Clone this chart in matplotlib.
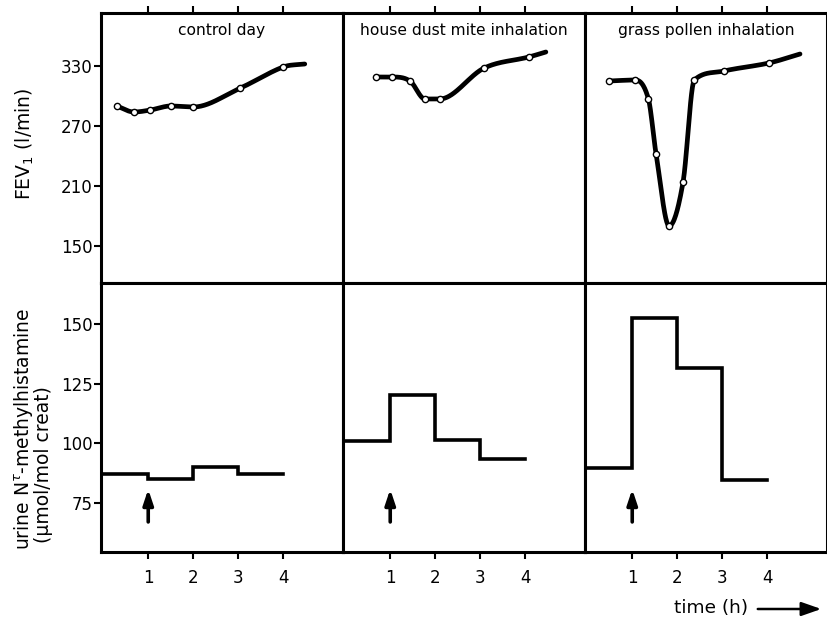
import numpy as np
import matplotlib
matplotlib.use("Agg")
import matplotlib.pyplot as plt

titles = ["control day", "house dust mite inhalation", "grass pollen inhalation"]

# FEV1 measurements (time in h, l/min); last pair is where the drawn curve ends
fev_t = [
    [0.3, 0.68, 1.05, 1.5, 2.0, 3.05, 4.0],
    [0.68, 1.04, 1.44, 1.77, 2.1, 3.09, 4.08],
    [0.49, 1.07, 1.36, 1.53, 1.82, 2.13, 2.38, 3.04, 4.04],
]
fev_vals = [
    [290, 284, 286, 290, 289, 308, 329],
    [319, 319, 315, 297, 297, 328, 339],
    [315, 316, 297, 242, 170, 214, 316, 325, 333],
]
fev_end_t = [4.48, 4.46, 4.73]
fev_end = [332, 344, 342]

# urine N-methylhistamine per hour interval (0-1, 1-2, 2-3, 3-4)
hist_edges = [0, 1, 2, 3, 4]
hist_vals = [
    [87, 85, 90, 87],
    [101, 120, 101.5, 93.5],
    [89.5, 152.5, 131.5, 84.5],
]

fev_ticks = [150, 210, 270, 330]
hist_ticks = [75, 100, 125, 150]
time_ticks = [1, 2, 3, 4]


def smooth(x, y, xn):
    # cubic hermite through the points (tangents limited so it doesn't overshoot)
    x = np.asarray(x, float)
    y = np.asarray(y, float)
    h = np.diff(x)
    d = np.diff(y) / h
    m = np.empty(len(x))
    m[0], m[-1] = d[0], d[-1]
    m[1:-1] = (y[2:] - y[:-2]) / (x[2:] - x[:-2])
    for k in range(1, len(x) - 1):
        if d[k - 1] * d[k] <= 0:
            m[k] = 0.0
        else:
            lim = 3 * min(abs(d[k - 1]), abs(d[k]))
            m[k] = np.sign(m[k]) * min(abs(m[k]), lim)
    i = np.clip(np.searchsorted(x, xn) - 1, 0, len(x) - 2)
    s = (xn - x[i]) / h[i]
    h00 = 2 * s**3 - 3 * s**2 + 1
    h10 = s**3 - 2 * s**2 + s
    h01 = -2 * s**3 + 3 * s**2
    h11 = s**3 - s**2
    return h00 * y[i] + h10 * h[i] * m[i] + h01 * y[i + 1] + h11 * h[i] * m[i + 1]


plt.rcParams["font.family"] = "DejaVu Sans"
fig = plt.figure(figsize=(8.27, 6.2), dpi=100)

x0, w = 101 / 827, 242 / 827
top_b, top_h = 1 - 283 / 620, 270 / 620
bot_b, bot_h = 1 - 552 / 620, 269 / 620

for j in range(3):
    ax1 = fig.add_axes([x0 + j * w, top_b, w, top_h])
    ax2 = fig.add_axes([x0 + j * w, bot_b, w, bot_h])

    # FEV1 curve
    tt = fev_t[j] + [fev_end_t[j]]
    vv = fev_vals[j] + [fev_end[j]]
    xs = np.linspace(tt[0], tt[-1], 400)
    ax1.plot(xs, smooth(tt, vv, xs), color="black", lw=3.4, solid_capstyle="round", zorder=2)
    ax1.plot(fev_t[j], fev_vals[j], "o", ms=4.5, mfc="white", mec="black", mew=1.0, zorder=3)
    ax1.text(0.5, 0.935, titles[j], transform=ax1.transAxes, ha="center", va="center", fontsize=11.2)
    ax1.set_xlim(-0.05, 5.33)
    ax1.set_ylim(113, 383)

    # histamine steps
    xs2 = np.repeat(hist_edges, 2)[1:-1]
    ys2 = np.repeat(hist_vals[j], 2)
    ax2.plot(xs2, ys2, color="black", lw=2.6, solid_joinstyle="miter")
    ax2.annotate("", xy=(1, 82), xytext=(1, 66),
                 arrowprops=dict(arrowstyle="-|>,head_width=0.3,head_length=0.9",
                                 color="black", lw=2.6, mutation_scale=10))
    ax2.set_xlim(-0.05, 5.33)
    ax2.set_ylim(54.6, 167)

    for ax in (ax1, ax2):
        for sp in ax.spines.values():
            sp.set_linewidth(2.2)
        ax.tick_params(direction="out", length=5, width=1.5)

    ax1.xaxis.tick_top()
    ax1.set_xticks(time_ticks)
    ax1.set_xticklabels([])
    ax2.set_xticks(time_ticks)
    ax2.set_xticklabels([str(t) for t in time_ticks], fontsize=12)
    ax2.tick_params(axis="x", pad=7)

    if j == 0:
        ax1.set_yticks(fev_ticks)
        ax1.set_yticklabels([str(v) for v in fev_ticks], fontsize=12)
        ax2.set_yticks(hist_ticks)
        ax2.set_yticklabels([str(v) for v in hist_ticks], fontsize=12)
        ax1.tick_params(axis="y", pad=1)
        ax2.tick_params(axis="y", pad=1)
    else:
        ax1.set_yticks([])
        ax2.set_yticks([])

fig.text(0.030, 1 - 144 / 620, "FEV$_1$ (l/min)", rotation=90, ha="center", va="center", fontsize=13.5)
fig.text(0.029, 1 - 550 / 620, "urine N$^{\\tau}$-methylhistamine", rotation=90,
         ha="center", va="bottom", fontsize=13.5)
fig.text(0.053, 1 - 543 / 620, "(\u03bcmol/mol creat)", rotation=90,
         ha="center", va="bottom", fontsize=13.5)

fig.text(711 / 827, 1 - 608 / 620, "time (h)", ha="center", va="center", fontsize=13.3)
fig.add_artist(matplotlib.patches.FancyArrowPatch(
    (755 / 827, 1 - 609 / 620), (824 / 827, 1 - 609 / 620), transform=fig.transFigure,
    arrowstyle="-|>,head_width=0.35,head_length=1.0", mutation_scale=12, lw=1.8, color="black"))

fig.savefig("out.png", dpi=100)
